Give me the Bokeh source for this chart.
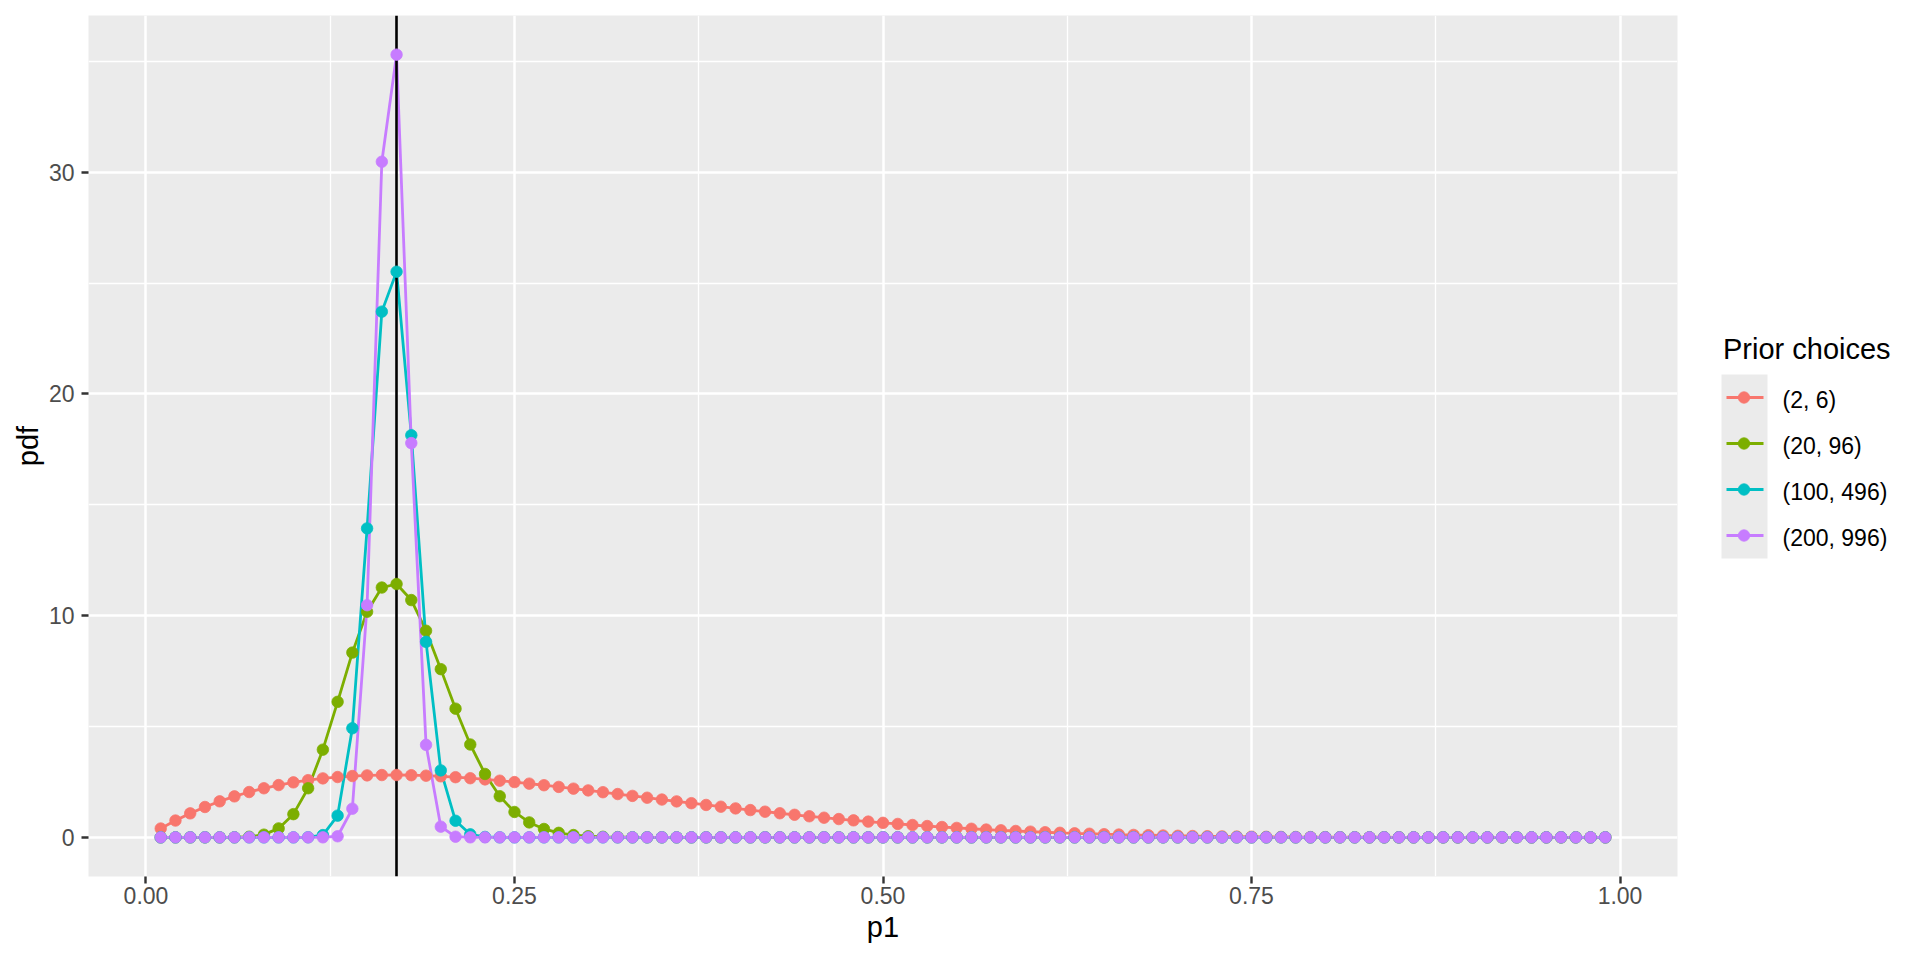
from bokeh.plotting import figure
from bokeh.models import Range1d, FixedTicker
from bokeh.layouts import row
from bokeh.core.properties import value
from bokeh.embed import file_html
from bokeh.resources import INLINE

# ---------------- data ----------------
p1 = [0.01, 0.02, 0.03, 0.04, 0.05, 0.06, 0.07, 0.08, 0.09, 0.10,
      0.11, 0.12, 0.13, 0.14, 0.15, 0.16, 0.17, 0.18, 0.19, 0.20,
      0.21, 0.22, 0.23, 0.24, 0.25, 0.26, 0.27, 0.28, 0.29, 0.30,
      0.31, 0.32, 0.33, 0.34, 0.35, 0.36, 0.37, 0.38, 0.39, 0.40,
      0.41, 0.42, 0.43, 0.44, 0.45, 0.46, 0.47, 0.48, 0.49, 0.50,
      0.51, 0.52, 0.53, 0.54, 0.55, 0.56, 0.57, 0.58, 0.59, 0.60,
      0.61, 0.62, 0.63, 0.64, 0.65, 0.66, 0.67, 0.68, 0.69, 0.70,
      0.71, 0.72, 0.73, 0.74, 0.75, 0.76, 0.77, 0.78, 0.79, 0.80,
      0.81, 0.82, 0.83, 0.84, 0.85, 0.86, 0.87, 0.88, 0.89, 0.90,
      0.91, 0.92, 0.93, 0.94, 0.95, 0.96, 0.97, 0.98, 0.99]

pdf_2_6 = [0.399, 0.759, 1.082, 1.370, 1.625, 1.849, 2.045, 2.214, 2.359, 2.480,
           2.580, 2.660, 2.721, 2.766, 2.795, 2.810, 2.812, 2.803, 2.782, 2.753,
           2.714, 2.668, 2.615, 2.556, 2.492, 2.423, 2.351, 2.275, 2.197, 2.118,
           2.036, 1.954, 1.871, 1.788, 1.706, 1.623, 1.542, 1.462, 1.383, 1.306,
           1.231, 1.158, 1.087, 1.018, 0.951, 0.887, 0.826, 0.767, 0.710, 0.656,
           0.605, 0.557, 0.511, 0.467, 0.426, 0.388, 0.352, 0.318, 0.287, 0.258,
           0.231, 0.206, 0.184, 0.163, 0.143, 0.126, 0.110, 0.096, 0.083, 0.071,
           0.061, 0.052, 0.044, 0.037, 0.031, 0.025, 0.021, 0.017, 0.014, 0.011,
           0.008, 0.007, 0.005, 0.004, 0.003, 0.002, 0.001, 0.001, 0.001, 0.000,
           0.000, 0.000, 0.000, 0.000, 0.000, 0.000, 0.000, 0.000, 0.000]

pdf_20_96 = [0.000, 0.000, 0.000, 0.000, 0.000, 0.004, 0.027, 0.122, 0.404, 1.047,
             2.215, 3.956, 6.113, 8.332, 10.174, 11.267, 11.426, 10.702, 9.319, 7.587,
             5.804, 4.188, 2.860, 1.855, 1.145, 0.674, 0.379, 0.204, 0.105, 0.052,
             0.025, 0.011, 0.005, 0.002, 0.001, 0.000, 0.000, 0.000, 0.000, 0.000,
             0.000, 0.000, 0.000, 0.000, 0.000, 0.000, 0.000, 0.000, 0.000, 0.000,
             0.000, 0.000, 0.000, 0.000, 0.000, 0.000, 0.000, 0.000, 0.000, 0.000,
             0.000, 0.000, 0.000, 0.000, 0.000, 0.000, 0.000, 0.000, 0.000, 0.000,
             0.000, 0.000, 0.000, 0.000, 0.000, 0.000, 0.000, 0.000, 0.000, 0.000,
             0.000, 0.000, 0.000, 0.000, 0.000, 0.000, 0.000, 0.000, 0.000, 0.000,
             0.000, 0.000, 0.000, 0.000, 0.000, 0.000, 0.000, 0.000, 0.000]

pdf_100_496 = [0.000, 0.000, 0.000, 0.000, 0.000, 0.000, 0.000, 0.000, 0.000, 0.000,
               0.005, 0.102, 0.980, 4.921, 13.934, 23.710, 25.510, 18.136, 8.819, 3.020,
               0.748, 0.137, 0.019, 0.002, 0.000, 0.000, 0.000, 0.000, 0.000, 0.000,
               0.000, 0.000, 0.000, 0.000, 0.000, 0.000, 0.000, 0.000, 0.000, 0.000,
               0.000, 0.000, 0.000, 0.000, 0.000, 0.000, 0.000, 0.000, 0.000, 0.000,
               0.000, 0.000, 0.000, 0.000, 0.000, 0.000, 0.000, 0.000, 0.000, 0.000,
               0.000, 0.000, 0.000, 0.000, 0.000, 0.000, 0.000, 0.000, 0.000, 0.000,
               0.000, 0.000, 0.000, 0.000, 0.000, 0.000, 0.000, 0.000, 0.000, 0.000,
               0.000, 0.000, 0.000, 0.000, 0.000, 0.000, 0.000, 0.000, 0.000, 0.000,
               0.000, 0.000, 0.000, 0.000, 0.000, 0.000, 0.000, 0.000, 0.000]

pdf_200_996 = [0.000, 0.000, 0.000, 0.000, 0.000, 0.000, 0.000, 0.000, 0.000, 0.000,
               0.000, 0.001, 0.050, 1.292, 10.469, 30.470, 35.300, 17.780, 4.173, 0.484,
               0.029, 0.001, 0.000, 0.000, 0.000, 0.000, 0.000, 0.000, 0.000, 0.000,
               0.000, 0.000, 0.000, 0.000, 0.000, 0.000, 0.000, 0.000, 0.000, 0.000,
               0.000, 0.000, 0.000, 0.000, 0.000, 0.000, 0.000, 0.000, 0.000, 0.000,
               0.000, 0.000, 0.000, 0.000, 0.000, 0.000, 0.000, 0.000, 0.000, 0.000,
               0.000, 0.000, 0.000, 0.000, 0.000, 0.000, 0.000, 0.000, 0.000, 0.000,
               0.000, 0.000, 0.000, 0.000, 0.000, 0.000, 0.000, 0.000, 0.000, 0.000,
               0.000, 0.000, 0.000, 0.000, 0.000, 0.000, 0.000, 0.000, 0.000, 0.000,
               0.000, 0.000, 0.000, 0.000, 0.000, 0.000, 0.000, 0.000, 0.000]

series_labels = ["(2, 6)", "(20, 96)", "(100, 496)", "(200, 996)"]
series_colors = ["#F8766D", "#7CAE00", "#00BFC4", "#C77CFF"]
series_values = [pdf_2_6, pdf_20_96, pdf_100_496, pdf_200_996]

true_p1 = 0.17

x_ticks = [0.0, 0.25, 0.5, 0.75, 1.0]
x_minor_ticks = [0.125, 0.375, 0.625, 0.875]
x_tick_labels = ["0.00", "0.25", "0.50", "0.75", "1.00"]
y_ticks = [0, 10, 20, 30]
y_minor_ticks = [5, 15, 25, 35]
y_tick_labels = ["0", "10", "20", "30"]

x_title = "p1"
y_title = "pdf"
legend_title = "Prior choices"

for vals in series_values:
    assert len(vals) == len(p1)

# ---------------- style ----------------
FONT = "Liberation Sans"
PANEL_BG = "#EBEBEB"
TICK_TEXT = "#4D4D4D"
TICK_LINE = "#333333"

# ggplot-like 5% expansion of the data range
x_lo, x_hi = min(p1), max(p1)
x_pad = (x_hi - x_lo) * 0.05
y_lo = min(min(v) for v in series_values)
y_hi = max(max(v) for v in series_values)
y_pad = (y_hi - y_lo) * 0.05

BORDER_L, BORDER_R, BORDER_T, BORDER_B = 88, 10, 15, 82
FRAME_W, FRAME_H = 1589, 861

p = figure(frame_width=FRAME_W, frame_height=FRAME_H,
           x_range=Range1d(x_lo - x_pad, x_hi + x_pad),
           y_range=Range1d(y_lo - y_pad, y_hi + y_pad),
           output_backend="svg", toolbar_location=None,
           min_border_left=BORDER_L, min_border_right=BORDER_R,
           min_border_top=BORDER_T, min_border_bottom=BORDER_B,
           background_fill_color=PANEL_BG, border_fill_color="white",
           outline_line_color=None)

p.xaxis.ticker = FixedTicker(ticks=x_ticks, minor_ticks=x_minor_ticks)
p.yaxis.ticker = FixedTicker(ticks=y_ticks, minor_ticks=y_minor_ticks)
p.xaxis.major_label_overrides = {t: l for t, l in zip(x_ticks, x_tick_labels)}
p.yaxis.major_label_overrides = {t: l for t, l in zip(y_ticks, y_tick_labels)}

for ax in (p.xaxis, p.yaxis):
    ax.axis_line_color = None
    ax.major_tick_line_color = TICK_LINE
    ax.major_tick_line_width = 2.4
    ax.major_tick_out = 7
    ax.major_tick_in = 0
    ax.minor_tick_line_color = None
    ax.major_label_text_font = FONT
    ax.major_label_text_font_size = "23px"
    ax.major_label_text_color = TICK_TEXT
    ax.axis_label_text_font = FONT
    ax.axis_label_text_font_size = "29px"
    ax.axis_label_text_font_style = "normal"
    ax.axis_label_text_color = "black"

p.xaxis.axis_label = x_title
p.yaxis.axis_label = y_title
p.xaxis.major_label_standoff = 3
p.xaxis.axis_label_standoff = 4
p.yaxis.major_label_standoff = 7
p.yaxis.axis_label_standoff = 2

for g in (p.xgrid, p.ygrid):
    g.grid_line_color = "white"
    g.grid_line_width = 2.5
    g.minor_grid_line_color = "white"
    g.minor_grid_line_width = 1.3

for vals, col in zip(series_values, series_colors):
    p.line(p1, vals, line_color=col, line_width=2.8)

p.vspan(x=[true_p1], line_color="black", line_width=2.6)

for vals, col in zip(series_values, series_colors):
    p.scatter(p1, vals, size=11.5, fill_color=col, line_color=col, line_width=0.8)

# ---------------- legend panel (ggplot-style, right of the plot) ----------------
# The row aligns this panel's frame with the main frame; its ranges are set so
# that one unit equals one pixel measured from the top of the page.
LEG_W = 225
lg = figure(frame_width=LEG_W, frame_height=FRAME_H,
            x_range=Range1d(0, LEG_W),
            y_range=Range1d(BORDER_T + FRAME_H, BORDER_T),
            x_axis_type=None, y_axis_type=None, output_backend="svg",
            toolbar_location=None,
            min_border_left=0, min_border_right=0,
            min_border_top=BORDER_T, min_border_bottom=BORDER_B,
            outline_line_color=None,
            background_fill_color="white", border_fill_color="white")

key_left, key_size = 34, 46
key_top = 374
n = len(series_labels)
key_centers = [key_top + key_size * (i + 0.5) for i in range(n)]

lg.quad(left=[key_left], right=[key_left + key_size], top=[key_top],
        bottom=[key_top + key_size * n], fill_color=PANEL_BG, line_color=None)
for yc, col in zip(key_centers, series_colors):
    lg.segment(x0=[key_left + 5], x1=[key_left + key_size - 4], y0=[yc], y1=[yc],
               line_color=col, line_width=2.8)
lg.scatter(x=[key_left + key_size / 2 - 0.5] * n, y=key_centers, size=11.5,
           fill_color=series_colors, line_color=series_colors, line_width=0.8)
lg.text(x=[key_left + key_size + 15] * n, y=[yc + 2 for yc in key_centers],
        text=series_labels, text_font=value(FONT), text_font_size="23px",
        text_color="black", text_baseline="alphabetic", text_align="left")
lg.text(x=[key_left + 1.5], y=[key_top - 26], text=[legend_title],
        text_font=value(FONT), text_font_size="29px", text_color="black",
        text_baseline="alphabetic", text_align="left")

layout = row(p, lg)
open("out.html", "w").write(file_html(layout, INLINE))
